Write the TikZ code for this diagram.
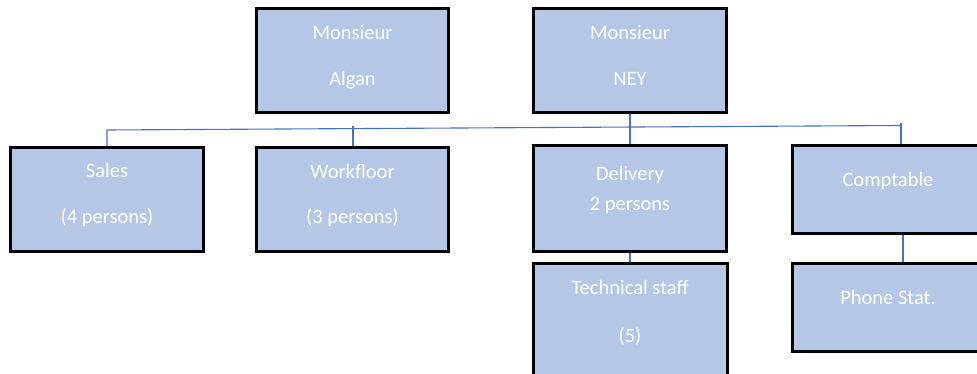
\documentclass[tikz,border=0pt]{standalone}
\usepackage{fontspec}
\setmainfont{Carlito}
\definecolor{boxfill}{HTML}{B4C7E7}
\definecolor{linkblue}{HTML}{4472C4}
\begin{document}
\begin{tikzpicture}[x=1pt,y=-1pt,
  box/.style={draw=black, line width=2.4pt, fill=boxfill, rectangle, inner sep=0pt},
  txt/.style={text=white, font=\fontsize{20.5}{24}\selectfont, anchor=base, inner sep=0pt},
  link/.style={draw=linkblue, line width=1.1pt}]
\useasboundingbox (0,0) rectangle (977,374);
\clip (0,0) rectangle (977,374);
\fill[white] (0,0) rectangle (977,374);
% boxes
\node[box, minimum width=190.6pt, minimum height=102.6pt] (algan) at (352.5,60.5) {};
\node[box, minimum width=191.6pt, minimum height=102.6pt] (ney) at (630,60.5) {};
\node[box, minimum width=191.6pt, minimum height=102.6pt] (sales) at (107,199.5) {};
\node[box, minimum width=190.6pt, minimum height=102.6pt] (workfloor) at (352.5,199.5) {};
\node[box, minimum width=191.6pt, minimum height=104.6pt] (delivery) at (630,198.5) {};
\node[box, minimum width=191.6pt, minimum height=86.6pt] (comptable) at (889,189.5) {};
\node[box, minimum width=192.6pt, minimum height=117.6pt] (tech) at (630.5,323) {};
\node[box, minimum width=191.6pt, minimum height=86.6pt] (phone) at (889,307.5) {};
% texts
\node[txt] (alganA) at (352.5,40) {Monsieur};
\node[txt] (alganB) at (352.5,86) {Algan};
\node[txt] (neyA) at (630,40) {Monsieur};
\node[txt] (neyB) at (630,86) {NEY};
\node[txt] (salesA) at (107,178) {Sales};
\node[txt] (salesB) at (107,224) {(4 persons)};
\node[txt] (workA) at (352.5,179) {Workfloor};
\node[txt] (workB) at (352.5,224) {(3 persons)};
\node[txt] (delA) at (630,181) {Delivery};
\node[txt] (delB) at (630,211) {2 persons};
\node[txt] (compA) at (888,187) {Comptable};
\node[txt] (techA) at (630,294) {Technical staff};
\node[txt] (techB) at (630,342) {(5)};
\node[txt] (phoneA) at (888,304) {Phone Stat.};
% connectors
\coordinate (busL) at (107,130);
\coordinate (busR) at (901,125.5);
\coordinate (wtop) at (353,126);
\coordinate (ctop) at (901,123);
\coordinate (cp) at (903,0);
\draw[link] (sales.north) -- (busL) -- (busR);
\draw[link] (wtop) -- (wtop |- workfloor.north);
\draw[link] (ney.south) -- (delivery.north);
\draw[link] (ctop) -- (ctop |- comptable.north);
\draw[link] (delivery.south) -- (delivery.south |- tech.north);
\draw[link] (cp |- comptable.south) -- (cp |- phone.north);
% redraw box borders over connector ends
\foreach \n in {algan,ney,sales,workfloor,delivery,comptable,tech,phone}
  \draw[line width=2.4pt] (\n.north west) rectangle (\n.south east);
\end{tikzpicture}
\end{document}
